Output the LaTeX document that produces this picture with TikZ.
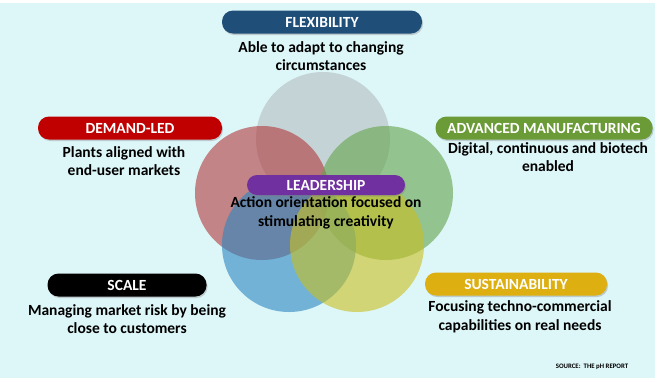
\documentclass[tikz,border=0pt]{standalone}
\usepackage{fontspec}
\setmainfont{Carlito}
\usetikzlibrary{shadows}
\definecolor{bgc}{HTML}{DDF6F8}
\definecolor{cgray}{HTML}{B4BCBF}
\definecolor{cred}{HTML}{B0383A}
\definecolor{cgreen}{HTML}{62A44A}
\definecolor{cblue}{HTML}{2A86C0}
\definecolor{cyel}{HTML}{C9C020}
\definecolor{pflex}{HTML}{1F4E79}
\definecolor{pdem}{HTML}{C00000}
\definecolor{padv}{HTML}{6A9B37}
\definecolor{plead}{HTML}{7030A0}
\definecolor{pscale}{HTML}{000000}
\definecolor{psus}{HTML}{DDAF10}
\tikzset{
  venn/.style={circle, minimum size=134pt, inner sep=0pt, fill opacity=0.6},
  pill/.style={rounded corners=11pt, minimum height=23pt, inner sep=0pt,
     text=white, font=\bfseries\fontsize{15.5}{18}\selectfont,
     drop shadow={shadow xshift=1pt, shadow yshift=-1.5pt, opacity=0.35}},
  desc/.style={align=center, text=black, font=\bfseries\fontsize{15.5}{18.5}\selectfont, inner sep=0pt}
}
\begin{document}
\begin{tikzpicture}[x=1pt,y=-1pt]
\fill[white] (0,0) rectangle (660,381);
\fill[bgc] (0,3) rectangle (655,378);
\useasboundingbox (0,0) rectangle (660,381);
% circles
\node[venn, fill=cgray] (cg) at (323,139) {};
\node[venn, fill=cred] (cr) at (262,193) {};
\node[venn, fill=cgreen] (cgr) at (386,193) {};
\node[venn, fill=cblue] (cb) at (289,245) {};
\node[venn, fill=cyel] (cy) at (357,245) {};
% pills
\node[pill, fill=pflex, minimum width=200pt] (flex) at (322,22) {FLEXIBILITY};
\node[desc] (flexd) at (321,56) {Able to adapt to changing\\circumstances};
\node[pill, fill=pdem, minimum width=184pt] (dem) at (130,128) {DEMAND-LED};
\node[desc] (demd) at (124,161) {Plants aligned with\\end-user markets};
\node[pill, fill=padv, minimum width=217pt] (adv) at (544,128) {ADVANCED MANUFACTURING};
\node[desc] (advd) at (548,157) {Digital, continuous and biotech\\enabled};
\node[pill, fill=plead, minimum width=158pt, minimum height=20pt, rounded corners=10pt] (lead) at (326,185) {LEADERSHIP};
\node[desc] (leadd) at (326,213) {Action orientation focused on\\stimulating creativity};
\node[pill, fill=pscale, minimum width=159pt] (scale) at (127,285) {SCALE};
\node[desc] (scaled) at (127,319) {Managing market risk by being\\close to customers};
\node[pill, fill=psus, minimum width=182pt] (sus) at (516,284) {SUSTAINABILITY};
\node[desc] (susd) at (520,317) {Focusing techno-commercial\\capabilities on real needs};
\node[font=\bfseries\fontsize{6.8}{8}\selectfont, inner sep=0pt] (src) at (592,367) {SOURCE:\ \ THE pH REPORT};
\end{tikzpicture}
\end{document}
